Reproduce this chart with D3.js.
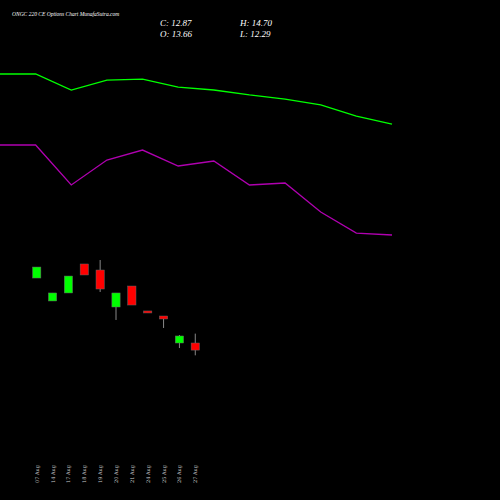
<!DOCTYPE html>
<html><head><meta charset="utf-8">
<script src="https://cdn.jsdelivr.net/npm/d3@7"></script>
<style>body{margin:0;background:#000}</style></head>
<body><div id="chart"></div>
<script>
const dates = ["07 Aug","14 Aug","17 Aug","18 Aug","19 Aug","20 Aug","21 Aug","24 Aug","25 Aug","26 Aug","27 Aug"];
const opens = [20.88,18.33,19.22,22.44,21.77,17.66,19.99,17.22,16.66,13.66,13.66];
const closes = [22.10,19.22,21.10,21.22,19.66,19.22,17.88,17.00,16.33,14.44,12.87];
const highs = [22.10,19.22,21.10,22.44,22.88,19.22,19.99,17.22,16.66,14.55,14.70];
const lows = [20.88,18.33,19.22,21.22,19.33,16.22,17.88,17.00,15.33,13.10,12.29];
const greenLine = [43.55,43.55,41.77,42.88,42.99,42.10,41.77,41.22,40.77,40.11,38.88,37.99];
const purpleLine = [35.66,35.66,31.22,33.99,35.10,33.33,33.88,31.22,31.44,28.22,25.88,25.66];

const W = 500, H = 500;
const svg = d3.select("#chart").append("svg").attr("width", W).attr("height", H)
  .style("background", "#000");

// price scale shared by candles and lines
const y = d3.scaleLinear().domain([13.66, 43.55]).range([343, 74]);
const x = d3.scaleBand().domain(dates).range([28, 204]).padding(0.1);
const xl = d3.scaleLinear().domain([0, greenLine.length - 1]).range([0, 392]);

const line = d3.line().x((d, i) => xl(i)).y(d => y(d));
svg.append("path").datum(greenLine).attr("d", line).attr("fill", "none")
  .attr("stroke", "#00ff00").attr("stroke-width", 1.3);
svg.append("path").datum(purpleLine).attr("d", line).attr("fill", "none")
  .attr("stroke", "#b000b0").attr("stroke-width", 1.3);

const c = svg.append("g").selectAll("g").data(dates).join("g");
c.append("line")
  .attr("x1", d => x(d) + x.bandwidth() / 2).attr("x2", d => x(d) + x.bandwidth() / 2)
  .attr("y1", (d, i) => y(highs[i])).attr("y2", (d, i) => y(lows[i]))
  .attr("stroke", "#888").attr("stroke-width", 1);
c.append("rect")
  .attr("x", d => x(d) + 3).attr("width", x.bandwidth() - 6)
  .attr("y", (d, i) => y(Math.max(opens[i], closes[i])))
  .attr("height", (d, i) => Math.max(2, Math.abs(y(opens[i]) - y(closes[i]))))
  .attr("fill", (d, i) => closes[i] >= opens[i] ? "#00ff00" : "#ff0000")
  .attr("stroke", "#666").attr("stroke-width", 0.5);

svg.append("g").selectAll("text").data(dates).join("text")
  .attr("transform", d => `translate(${x(d) + x.bandwidth() / 2 + 2},483) rotate(-90)`)
  .attr("fill", "#ccc").attr("font-size", 5).attr("font-family", "DejaVu Serif")
  .text(d => d);

const t = svg.append("g").attr("font-family", "Liberation Serif").attr("font-style", "italic").attr("fill", "#fff");
t.append("text").attr("x", 12).attr("y", 16).attr("font-size", 5.5).text("ONGC 220  CE Options  Chart MunafaSutra.com");
t.append("text").attr("x", 160).attr("y", 26).attr("font-size", 9).text("C: 12.87");
t.append("text").attr("x", 240).attr("y", 26).attr("font-size", 9).text("H: 14.70");
t.append("text").attr("x", 160).attr("y", 37).attr("font-size", 9).text("O: 13.66");
t.append("text").attr("x", 240).attr("y", 37).attr("font-size", 9).text("L: 12.29");
</script></body></html>
